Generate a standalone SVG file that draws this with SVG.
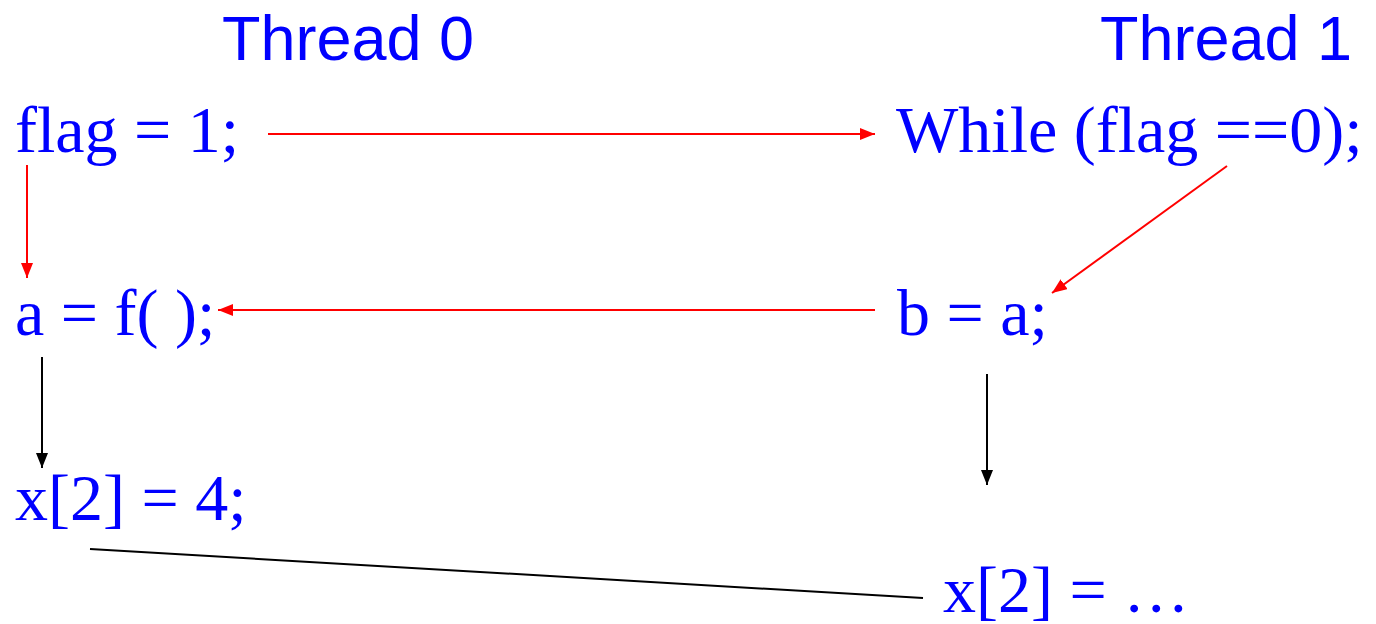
<svg xmlns="http://www.w3.org/2000/svg" width="1376" height="624" viewBox="0 0 1376 624">
<defs>
<style>
.hd{font-family:"Liberation Sans",Arial,sans-serif;font-size:63px;fill:#0000FF}
.code{font-family:"Liberation Serif","Times New Roman",serif;font-size:66px;fill:#0000FF}
.red{stroke:#FF0000;stroke-width:2;fill:none}
.blk{stroke:#000000;stroke-width:2;fill:none}
</style>
<marker id="ar" markerUnits="userSpaceOnUse" markerWidth="16" markerHeight="14" refX="15" refY="6" orient="auto"><path d="M0,0 L15,6 L0,12 z" fill="#FF0000"/></marker>
<marker id="ak" markerUnits="userSpaceOnUse" markerWidth="16" markerHeight="14" refX="15" refY="6" orient="auto"><path d="M0,0 L15,6 L0,12 z" fill="#000000"/></marker>
</defs>
<g id="title0"><text class="hd" x="222" y="60">Thread 0</text></g>
<g id="title1"><text class="hd" x="1100" y="60">Thread 1</text></g>
<g id="n-flag"><text class="code" x="15" y="152">flag = 1;</text></g>
<g id="n-while"><text class="code" x="896" y="152">While (flag ==0);</text></g>
<g id="n-a"><text class="code" x="15" y="335">a = f( );</text></g>
<g id="n-b"><text class="code" x="897" y="335">b = a;</text></g>
<g id="n-x0"><text class="code" x="15" y="520">x[2] = 4;</text></g>
<g id="n-x1"><text class="code" x="943" y="612">x[2] = …</text></g>
<g id="connectors">
<line class="red" x1="268" y1="134" x2="875" y2="134" marker-end="url(#ar)"/>
<line class="red" x1="27" y1="165" x2="27" y2="278" marker-end="url(#ar)"/>
<line class="red" x1="1227" y1="166" x2="1052" y2="293" marker-end="url(#ar)"/>
<line class="red" x1="875" y1="310" x2="218" y2="310" marker-end="url(#ar)"/>
<line class="blk" x1="42" y1="357" x2="42" y2="468" marker-end="url(#ak)"/>
<line class="blk" x1="987" y1="374" x2="987" y2="485" marker-end="url(#ak)"/>
<line class="blk" x1="90" y1="549" x2="923" y2="598"/>
</g>
</svg>
